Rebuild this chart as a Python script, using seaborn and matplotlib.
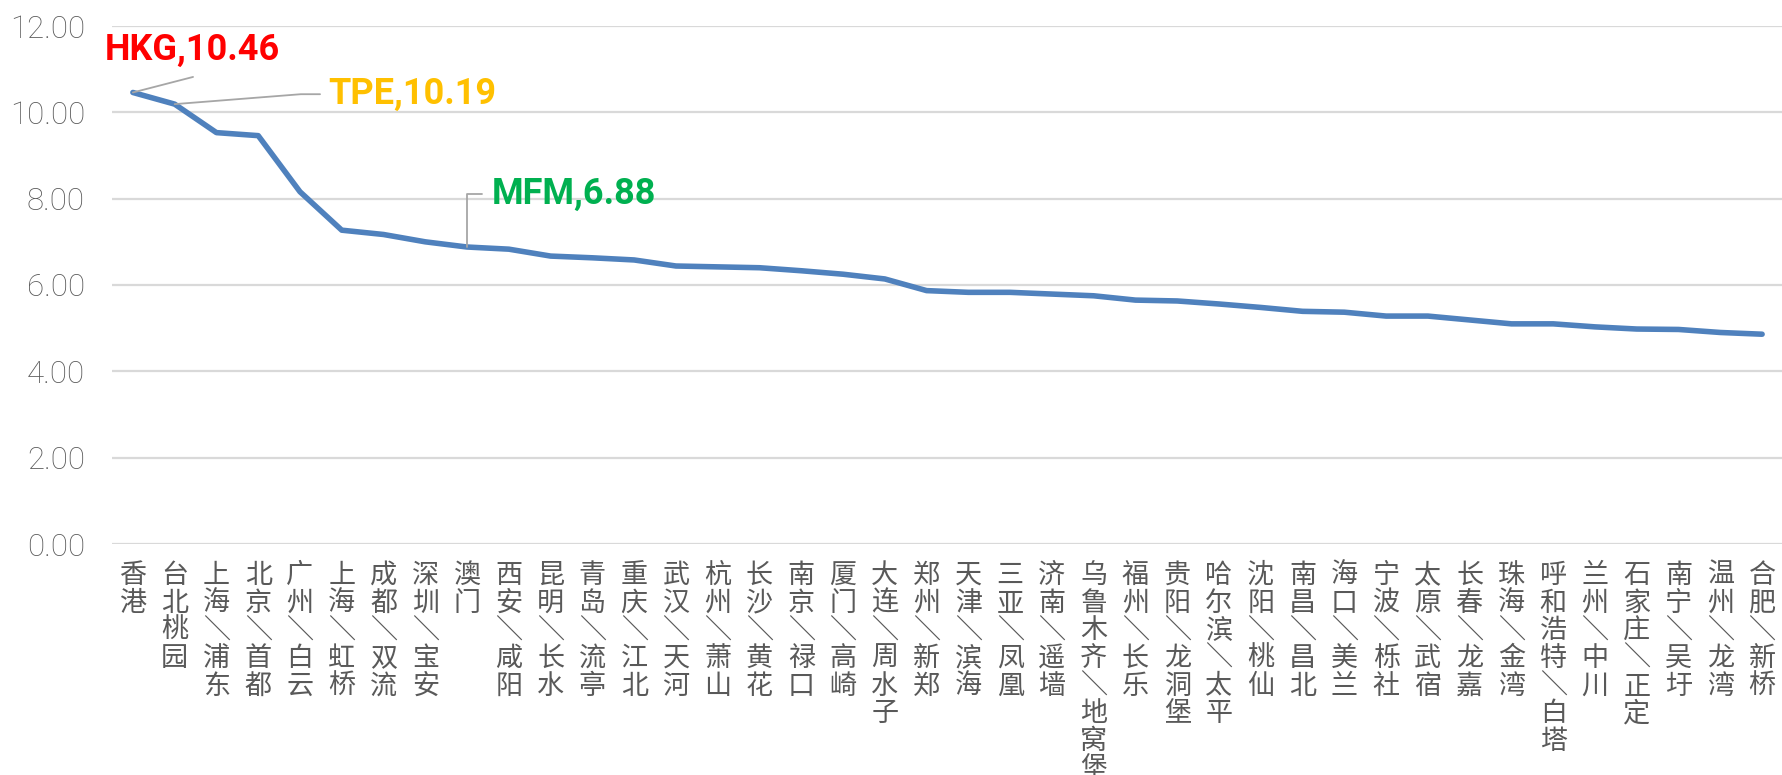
import pandas as pd
import matplotlib
matplotlib.use("Agg")
import matplotlib.pyplot as plt
import seaborn as sns

airports = [
    "香港", "台北桃园", "上海/浦东", "北京/首都", "广州/白云", "上海/虹桥", "成都/双流", "深圳/宝安",
    "澳门", "西安/咸阳", "昆明/长水", "青岛/流亭", "重庆/江北", "武汉/天河", "杭州/萧山", "长沙/黄花",
    "南京/禄口", "厦门/高崎", "大连/周水子", "郑州/新郑", "天津/滨海", "三亚/凤凰", "济南/遥墙",
    "乌鲁木齐/地窝堡", "福州/长乐", "贵阳/龙洞堡", "哈尔滨/太平", "沈阳/桃仙", "南昌/昌北", "海口/美兰",
    "宁波/栎社", "太原/武宿", "长春/龙嘉", "珠海/金湾", "呼和浩特/白塔", "兰州/中川", "石家庄/正定",
    "南宁/吴圩", "温州/龙湾", "合肥/新桥",
]
values = [
    10.46, 10.19, 9.53, 9.46, 8.16, 7.27, 7.17, 7.00,
    6.88, 6.83, 6.67, 6.63, 6.58, 6.44, 6.42, 6.40,
    6.33, 6.25, 6.14, 5.87, 5.83, 5.83, 5.79,
    5.75, 5.65, 5.63, 5.56, 5.48, 5.39, 5.37,
    5.28, 5.28, 5.19, 5.10, 5.10, 5.03, 4.98,
    4.97, 4.90, 4.86,
]
y_ticks = [0, 2, 4, 6, 8, 10, 12]

# highlighted airports: (index, label, colour)
highlights = [
    (0, "HKG,10.46", "#FF0000"),
    (1, "TPE,10.19", "#FFC000"),
    (8, "MFM,6.88", "#00B050"),
]

df = pd.DataFrame({"airport": airports, "value": values})
df["pos"] = range(len(df))

sns.set_style("white")
plt.rcParams["font.family"] = ["Noto Sans CJK SC", "DejaVu Sans"]

fig = plt.figure(figsize=(17.83, 7.75), dpi=100)
ax = fig.add_axes([112 / 1783, 1 - 544 / 775, 1 - 112 / 1783, (544 - 26) / 775])

sns.lineplot(data=df, x="pos", y="value", ax=ax, color="#4F81BD", linewidth=4,
             solid_capstyle="round", solid_joinstyle="round")

ax.set_xlim(-0.5, len(df) - 0.5)
ax.set_ylim(0, 12)
ax.set_yticks(y_ticks)
ax.set_yticklabels([f"{t:.2f}" for t in y_ticks], family=["Roboto", "DejaVu Sans"],
                   fontweight="light", fontsize=22.5, color="#595959")
ax.set_xticks(df["pos"])
stacked = ["\n".join(a.replace("/", "＼")) for a in airports]
ax.set_xticklabels(stacked, fontsize=19.5, color="#595959", va="top", linespacing=1.03)
ax.tick_params(axis="x", length=0, pad=13)
ax.tick_params(axis="y", length=0, pad=19.5)
ax.set_xlabel("")
ax.set_ylabel("")
ax.grid(axis="y", color="#D9D9D9", linewidth=1.6)
ax.set_axisbelow(True)
for s in ax.spines.values():
    s.set_visible(False)

# leader lines and labels
hkg, tpe, mfm = highlights
ax.annotate("", xy=(hkg[0], values[hkg[0]]), xytext=(1.44, 10.82),
            arrowprops=dict(arrowstyle="-", color="#A6A6A6", lw=1.3, shrinkA=0, shrinkB=0))
ax.text(-0.67, 11.44, hkg[1], color=hkg[2], fontsize=26, fontweight="bold",
        family=["Roboto", "DejaVu Sans"], ha="left", va="center")

ax.annotate("", xy=(tpe[0], values[tpe[0]]), xytext=(4.48, 10.42),
            arrowprops=dict(arrowstyle="-", color="#A6A6A6", lw=1.3, shrinkA=0, shrinkB=0,
                            connectionstyle="angle,angleA=0,angleB=4.5,rad=0"))
ax.text(4.67, 10.42, tpe[1], color=tpe[2], fontsize=26, fontweight="bold",
        family=["Roboto", "DejaVu Sans"], ha="left", va="center")

ax.annotate("", xy=(mfm[0], values[mfm[0]]), xytext=(8.36, 8.11),
            arrowprops=dict(arrowstyle="-", color="#A6A6A6", lw=1.3, shrinkA=0, shrinkB=0,
                            connectionstyle="angle,angleA=0,angleB=90,rad=0"))
ax.text(8.59, 8.11, mfm[1], color=mfm[2], fontsize=26, fontweight="bold",
        family=["Roboto", "DejaVu Sans"], ha="left", va="center")

fig.savefig("out.png", dpi=100)
